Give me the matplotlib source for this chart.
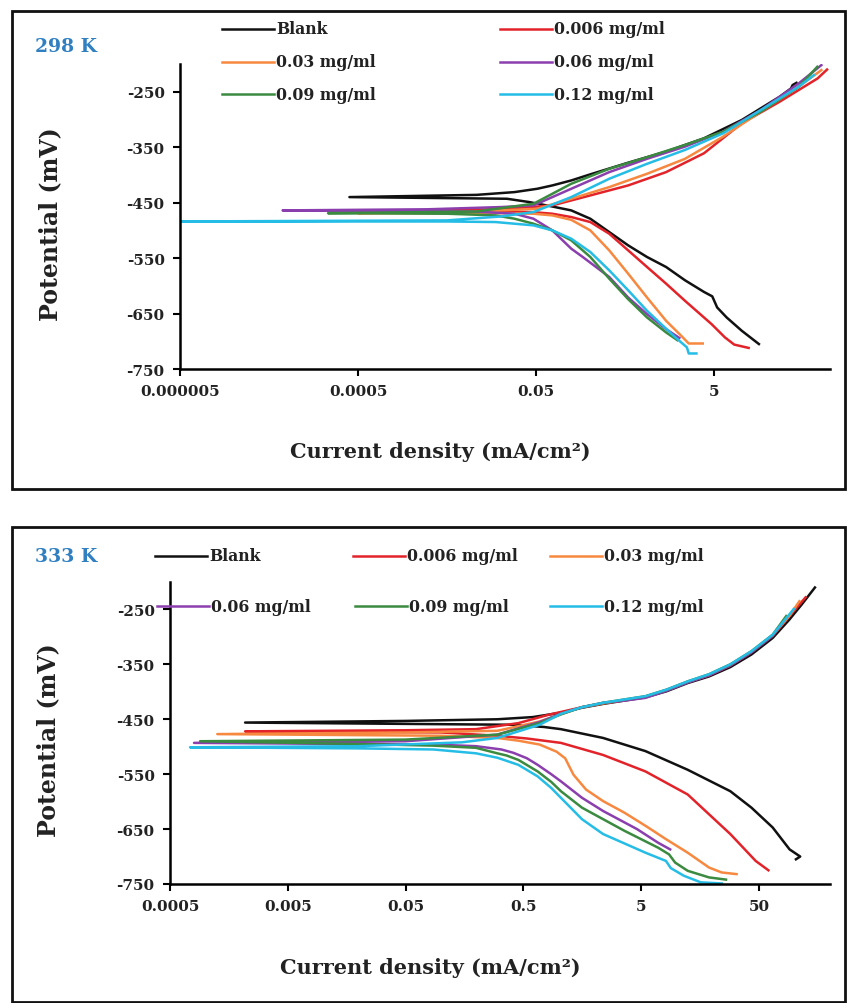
import matplotlib

matplotlib.use("Agg")
import matplotlib.pyplot as plt
from matplotlib.lines import Line2D
from matplotlib.patches import Rectangle

W, H = 857, 1004

labels = ["Blank", "0.006 mg/ml", "0.03 mg/ml", "0.06 mg/ml", "0.09 mg/ml", "0.12 mg/ml"]
colors = ["#111111", "#e2232a", "#f7883f", "#8b3fae", "#3a8a3f", "#25bde6"]

y_ticks = [-750, -650, -550, -450, -350, -250]
x_ticks_298 = [5e-6, 5e-4, 5e-2, 5]
x_labels_298 = ["0.000005", "0.0005", "0.05", "5"]
x_ticks_333 = [5e-4, 5e-3, 5e-2, 0.5, 5, 50]
x_labels_333 = ["0.0005", "0.005", "0.05", "0.5", "5", "50"]

# ---- 298 K : current density (mA/cm2) and potential (mV) ----
blank_298_i = [15.9, 10.2, 6.9, 5.4, 4.76, 3.84, 2.35, 1.44, 0.88, 0.54, 0.331, 0.203, 0.124, 0.076,
               0.042, 0.0235, 0.0004, 0.0107, 0.0286, 0.0515, 0.076, 0.124, 0.203, 0.54, 1.44, 3.84,
               10.2, 27.2, 36.5, 38.0, 42.0]
blank_298_e = [-705, -681, -657, -639, -619, -611, -590, -566, -548, -527, -503, -479, -464, -457,
               -449, -443, -440, -436, -431, -425, -419, -410, -399, -378, -358, -334,
               -301, -259, -244, -238, -234]
red_298_i = [12.2, 8.4, 6.6, 4.67, 2.35, 1.44, 0.88, 0.54, 0.331, 0.203, 0.124, 0.076, 0.045, 0.02,
             0.0003, 0.01, 0.03, 0.076, 0.203, 0.54, 1.44, 3.84, 10.2, 27.2, 72.6, 92.7]
red_298_e = [-712, -706, -693, -669, -627, -596, -566, -536, -506, -485, -476, -470, -467, -466,
             -466, -463, -460, -455, -437, -419, -395, -361, -307, -268, -226, -210]
orange_298_i = [3.72, 2.59, 2.13, 1.44, 0.88, 0.54, 0.331, 0.203, 0.124, 0.076, 0.0467, 0.02, 0.0005,
                0.0107, 0.0515, 0.124, 0.331, 0.88, 2.35, 6.3, 16.7, 44.5, 80]
orange_298_e = [-704, -704, -690, -663, -621, -578, -536, -500, -481, -473, -470, -469, -469,
                -466, -461, -443, -422, -398, -371, -331, -286, -241, -211]
purple_298_i = [2.03, 1.44, 0.88, 0.54, 0.331, 0.167, 0.124, 0.076, 0.0467, 0.0286, 0.01, 7.1e-5,
                0.003, 0.02, 0.0467, 0.124, 0.331, 0.88, 2.35, 6.3, 16.7, 44.5, 80]
purple_298_e = [-694, -678, -651, -621, -584, -548, -533, -500, -479, -470, -466, -464,
                -462, -458, -455, -425, -395, -371, -349, -322, -283, -235, -202]
green_298_i = [1.93, 1.44, 0.88, 0.54, 0.331, 0.203, 0.124, 0.076, 0.0467, 0.0286, 0.0175, 0.005,
               2.3e-4, 0.0107, 0.0467, 0.124, 0.331, 0.88, 2.35, 6.3, 16.7, 44.5, 72]
green_298_e = [-698, -684, -657, -624, -587, -548, -518, -500, -488, -479, -473, -470,
               -469, -466, -452, -416, -389, -368, -346, -322, -286, -241, -205]
cyan_298_i = [3.16, 2.59, 2.47, 1.75, 0.88, 0.54, 0.331, 0.203, 0.124, 0.076, 0.0467, 0.0175, 0.005,
              4e-6, 0.005, 0.02, 0.0467, 0.124, 0.331, 0.88, 2.35, 6.3, 16.7, 44.5, 65.8]
cyan_298_e = [-722, -722, -711, -690, -645, -608, -572, -539, -515, -500, -491, -485, -484,
              -484, -482, -475, -467, -440, -407, -380, -355, -325, -283, -241, -220]

# ---- 333 K ----
blank_333_i = [102.8, 111.7, 90.8, 65.2, 43.1, 28.5, 12.4, 5.43, 2.37, 1.04, 0.745, 0.4, 2.17e-3,
               0.05, 0.3, 0.6, 1.04, 1.57, 2.37, 3.59, 5.43, 8.2, 12.4, 18.8, 28.5, 43.1, 65.2,
               90.8, 116, 149]
blank_333_e = [-705, -700, -687, -647, -611, -581, -542, -508, -484, -468, -464, -460, -456,
               -453, -450, -446, -438, -429, -422, -416, -410, -399, -384, -372, -355, -332, -302,
               -268, -240, -210]
red_333_i = [60, 46.8, 28.5, 18.8, 12.4, 5.43, 2.37, 1.04, 0.535, 0.3, 0.1, 2.17e-3, 0.05, 0.198,
             0.453, 0.81, 1.57, 2.37, 3.59, 5.43, 8.2, 12.4, 18.8, 28.5, 43.1, 65.2, 90.8, 124]
red_333_e = [-725, -708, -659, -623, -587, -545, -515, -493, -485, -480, -474, -472, -470, -468,
             -457, -442, -428, -421, -415, -409, -397, -382, -370, -352, -328, -298, -262, -228]
orange_333_i = [32.2, 24.1, 18.8, 12.4, 8.2, 5.43, 3.59, 2.37, 1.70, 1.33, 1.13, 0.955, 0.685, 0.453,
                0.3, 0.1, 1.26e-3, 0.05, 0.3, 0.685, 1.57, 2.37, 3.59, 5.43, 8.2, 12.4, 18.8, 28.5,
                43.1, 65.2, 90.8, 110]
orange_333_e = [-732, -729, -720, -693, -669, -644, -620, -599, -578, -551, -521, -509, -496, -489,
                -484, -480, -477, -474, -471, -454, -428, -421, -415, -409, -397, -382, -369, -351,
                -327, -297, -261, -235]
purple_333_i = [8.8, 6.97, 4.6, 2.37, 1.57, 1.04, 0.86, 0.66, 0.535, 0.41, 0.325, 0.198, 0.086, 8e-4,
                0.05, 0.3, 0.685, 1.04, 1.57, 2.37, 3.59, 5.43, 8.2, 12.4, 18.8, 28.5, 43.1, 65.2, 85]
purple_333_e = [-687, -675, -650, -617, -593, -563, -550, -533, -521, -511, -505, -499, -496, -493,
                -490, -478, -455, -440, -428, -420, -416, -411, -398, -383, -370, -352, -328, -298,
                -265]
green_333_i = [26.2, 18.8, 12.4, 9.7, 8.6, 6.97, 3.59, 1.57, 1.04, 0.86, 0.66, 0.453, 0.36, 0.3,
               0.198, 0.086, 0.02, 9e-4, 0.05, 0.3, 0.685, 1.04, 1.57, 2.37, 3.59, 5.43, 8.2, 12.4,
               18.8, 28.5, 43.1, 65.2, 85]
green_333_e = [-742, -738, -726, -711, -696, -684, -653, -611, -581, -564, -545, -524, -516, -512,
               -502, -498, -495, -490, -487, -478, -457, -441, -428, -420, -414, -408, -396, -381,
               -368, -350, -326, -296, -262]
cyan_333_i = [24.1, 16, 11.5, 8.9, 8.1, 5.43, 2.37, 1.57, 1.04, 0.86, 0.66, 0.453, 0.3, 0.198, 0.086,
              0.02, 7.4e-4, 0.02, 0.15, 0.3, 0.685, 1.04, 1.57, 2.37, 3.59, 5.43, 8.2, 12.4, 18.8,
              28.5, 43.1, 65.2, 98.6]
cyan_333_e = [-749, -747, -735, -721, -708, -693, -659, -632, -593, -575, -554, -533, -520, -512,
              -505, -503, -501, -499, -492, -484, -460, -440, -428, -420, -414, -408, -396, -381,
              -368, -350, -326, -296, -249]

series_298 = [(blank_298_i, blank_298_e), (red_298_i, red_298_e), (orange_298_i, orange_298_e),
              (purple_298_i, purple_298_e), (green_298_i, green_298_e), (cyan_298_i, cyan_298_e)]
series_333 = [(blank_333_i, blank_333_e), (red_333_i, red_333_e), (orange_333_i, orange_333_e),
              (purple_333_i, purple_333_e), (green_333_i, green_333_e), (cyan_333_i, cyan_333_e)]

FONT = "DejaVu Serif"
LW = 1.8
TEXT = "#222222"


def fx(px):
    return px / W


def fy(py):
    return 1 - py / H


def make_axes(fig, left, right, top, bottom, xlim, xticks, xlabels):
    ax = fig.add_axes([fx(left), fy(bottom), fx(right) - fx(left), fy(top) - fy(bottom)])
    ax.set_xscale("log")
    ax.set_xlim(*xlim)
    ax.set_ylim(-750, -200)
    for side in ("top", "right"):
        ax.spines[side].set_visible(False)
    for side in ("left", "bottom"):
        ax.spines[side].set_linewidth(1.8)
    ax.set_xticks(xticks)
    ax.set_xticklabels(xlabels)
    ax.xaxis.set_minor_locator(matplotlib.ticker.NullLocator())
    ax.set_yticks(y_ticks)
    ax.set_yticklabels([str(v) for v in y_ticks])
    ax.tick_params(axis="both", direction="out", length=5, width=1.5, labelsize=11, pad=6)
    for lab in ax.get_xticklabels() + ax.get_yticklabels():
        lab.set_fontfamily(FONT)
        lab.set_fontweight("bold")
        lab.set_color(TEXT)
    return ax


def draw_legend(fig, rows):
    for label, color, x0, y0 in rows:
        fig.add_artist(Line2D([fx(x0), fx(x0 + 52)], [fy(y0), fy(y0)], color=color, lw=LW))
        fig.text(fx(x0 + 54), fy(y0), label, family=FONT, weight="bold", fontsize=11.3,
                 va="center", ha="left", color=TEXT)


fig = plt.figure(figsize=(W / 100, H / 100), dpi=100)

# panel frames
fig.add_artist(Rectangle((fx(12), fy(490)), fx(845) - fx(12), fy(12) - fy(490),
                         transform=fig.transFigure, fill=False, lw=2.0, ec="#111111"))
fig.add_artist(Rectangle((fx(12), fy(1003)), fx(845) - fx(12), fy(528) - fy(1003),
                         transform=fig.transFigure, fill=False, lw=2.0, ec="#111111"))

# 298 K
ax1 = make_axes(fig, 180, 830, 65, 370, (5e-6, 100), x_ticks_298, x_labels_298)
for (cur, pot), color in zip(series_298, colors):
    ax1.plot(cur, pot, color=color, lw=LW, solid_joinstyle="round")
fig.text(fx(35), fy(47), "298 K", color="#2f7fc1", family=FONT, weight="bold", fontsize=13.5,
         va="center", ha="left")
fig.text(fx(440), fy(452), "Current density (mA/cm²)", family=FONT, weight="bold", fontsize=15,
         va="center", ha="center", color=TEXT)
fig.text(fx(50), fy(224), "Potential (mV)", family=FONT, weight="bold", fontsize=17,
         rotation=90, va="center", ha="center", color=TEXT)
draw_legend(fig, [
    (labels[0], colors[0], 222, 30), (labels[1], colors[1], 500, 30),
    (labels[2], colors[2], 222, 63), (labels[3], colors[3], 500, 63),
    (labels[4], colors[4], 222, 95), (labels[5], colors[5], 500, 95),
])

# 333 K
ax2 = make_axes(fig, 170, 830, 583, 885, (5e-4, 200), x_ticks_333, x_labels_333)
for (cur, pot), color in zip(series_333, colors):
    ax2.plot(cur, pot, color=color, lw=LW, solid_joinstyle="round")
fig.text(fx(35), fy(557), "333 K", color="#2f7fc1", family=FONT, weight="bold", fontsize=13.5,
         va="center", ha="left")
fig.text(fx(430), fy(968), "Current density (mA/cm²)", family=FONT, weight="bold", fontsize=15,
         va="center", ha="center", color=TEXT)
fig.text(fx(48), fy(740), "Potential (mV)", family=FONT, weight="bold", fontsize=17,
         rotation=90, va="center", ha="center", color=TEXT)
draw_legend(fig, [
    (labels[0], colors[0], 155, 557), (labels[1], colors[1], 353, 557),
    (labels[2], colors[2], 550, 557),
    (labels[3], colors[3], 157, 607), (labels[4], colors[4], 355, 607),
    (labels[5], colors[5], 550, 607),
])

fig.savefig("out.png", dpi=100)
